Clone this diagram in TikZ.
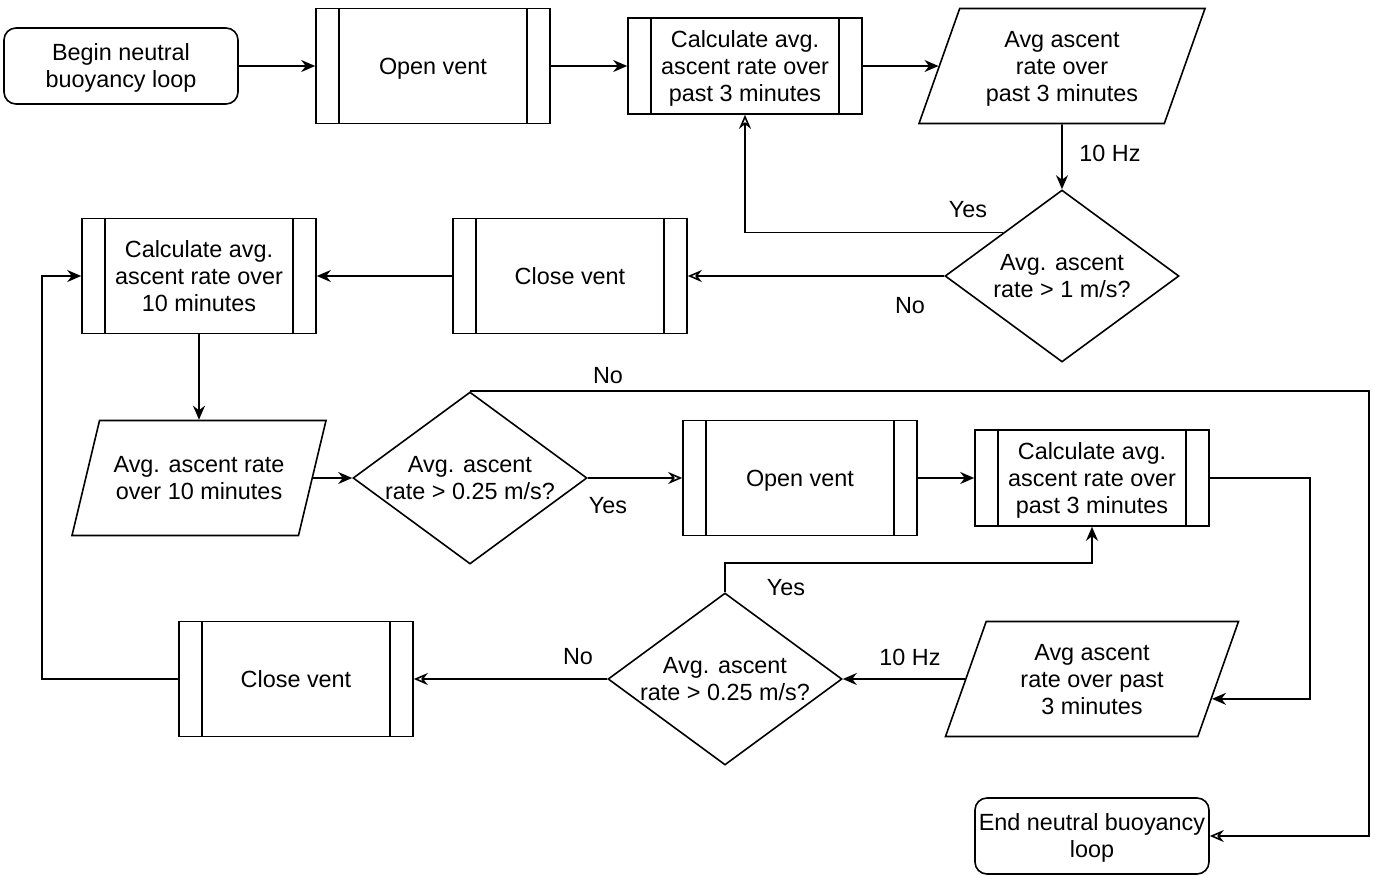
\documentclass[tikz,border=0pt]{standalone}
\usepackage{fontspec}
\setmainfont{Liberation Sans}
\usetikzlibrary{arrows.meta,shapes.geometric,calc}

\begin{document}
\begin{tikzpicture}[x=0.5pt,y=-0.5pt,
  every node/.style={font=\fontsize{11.7}{13.5}\selectfont, align=center},
  terminal/.style={draw, line width=0.8pt, rounded corners=6pt, inner xsep=1pt, text depth=0pt,
    minimum width=117pt, minimum height=38pt},
  process/.style={draw, line width=0.8pt, minimum width=117pt, minimum height=57.5pt, text depth=0pt,
    path picture={
      \draw[line width=0.8pt]
        ([xshift=11.5pt]path picture bounding box.north west) -- ([xshift=11.5pt]path picture bounding box.south west)
        ([xshift=-11.5pt]path picture bounding box.north east) -- ([xshift=-11.5pt]path picture bounding box.south east);}},
  io/.style={draw, line width=0.8pt, trapezium, trapezium left angle=64, trapezium right angle=116,
    trapezium stretches body, inner xsep=2pt, text depth=0pt, minimum height=57.5pt},
  decision/.style={draw, line width=0.8pt, diamond, inner sep=0pt, minimum width=117pt, minimum height=86pt},
  dtext/.style={text depth=0pt},
  fl/.style={line width=0.8pt, -{Stealth[length=7pt,width=6pt]}},
  op/.style={line width=0.8pt, -{Stealth[open,length=7pt,width=6pt]}}]
 \fill[white] (0,0) rectangle (1373,875);
 \useasboundingbox (0,0) rectangle (1373,875);
%
 \node[terminal] (begin) at (121,66) {Begin neutral\\buoyancy loop};
 \node[process] (ov1) at (433,66) {Open vent};
 \node[process, minimum height=48pt] (c1) at (745,66) {Calculate avg.\\ascent rate over\\past 3 minutes};
 \node[io, minimum width=143pt] (p1) at (1062,66) {Avg ascent\\rate over\\past 3 minutes};
 \node[decision, label={[dtext]center:Avg. ascent\\rate > 1 m/s?}] (d1) at (1062,276) {};
%
 \node[process] (cv1) at (570,276) {Close vent};
 \node[process] (c10) at (199,276) {Calculate avg.\\ascent rate over\\10 minutes};
 \node[io, minimum width=127pt] (p2) at (199,478) {Avg. ascent rate\\over 10 minutes};
 \node[decision, label={[dtext]center:Avg. ascent\\rate > 0.25 m/s?}] (d2) at (470,478) {};
 \node[process] (ov2) at (800,478) {Open vent};
 \node[process, minimum height=48pt] (c2) at (1092,478) {Calculate avg.\\ascent rate over\\past 3 minutes};
%
 \node[io, minimum width=146.5pt] (p3) at (1092,679) {Avg ascent\\rate over past\\3 minutes};
 \coordinate (p3in) at ($(p3.top right corner)!0.67!(p3.bottom right corner)$);
 \node[decision, label={[dtext]center:Avg. ascent\\rate > 0.25 m/s?}] (d3) at (725,679) {};
 \node[process] (cv2) at (296,679) {Close vent};
 \node[terminal] (end) at (1092,836) {End neutral buoyancy\\loop};
%
 \draw[fl] (begin) -- (ov1);
 \draw[fl] (ov1) -- (c1);
 \draw[fl] (c1) -- (p1);
 \draw[fl] (p1) -- (d1);
 \draw[op] (d1.north west) -| (c1.south);
 \draw[op] (d1) -- (cv1);
 \draw[fl] (cv1) -- (c10);
 \draw[fl] (c10) -- (p2);
 \draw[fl] (p2) -- (d2);
 \draw[op] (d2) -- (ov2);
 \draw[op] (d2.north) -- ++(899,0) |- (end.east);
 \draw[fl] (ov2) -- (c2);
 \draw[fl] (c2.east) -- ++(100,0) |- (p3in);
 \draw[fl] (p3) -- (d3);
 \draw[fl] (d3.north) -- ++(0,-29) -| (c2.south);
 \draw[op] (d3) -- (cv2);
 \draw[fl] (cv2.west) -- ++(-136,0) |- (c10.west);
%
 \node (hz1) at (1110,153) {10 Hz};
 \node (yes1) at (968,210) {Yes};
 \node (no1) at (910,306) {No};
 \node (no2) at (608,376) {No};
 \node (yes2) at (608,506) {Yes};
 \node (yes3) at (786,588) {Yes};
 \node (no3) at (578,657) {No};
 \node (hz2) at (910,657) {10 Hz};
\end{tikzpicture}
\end{document}
